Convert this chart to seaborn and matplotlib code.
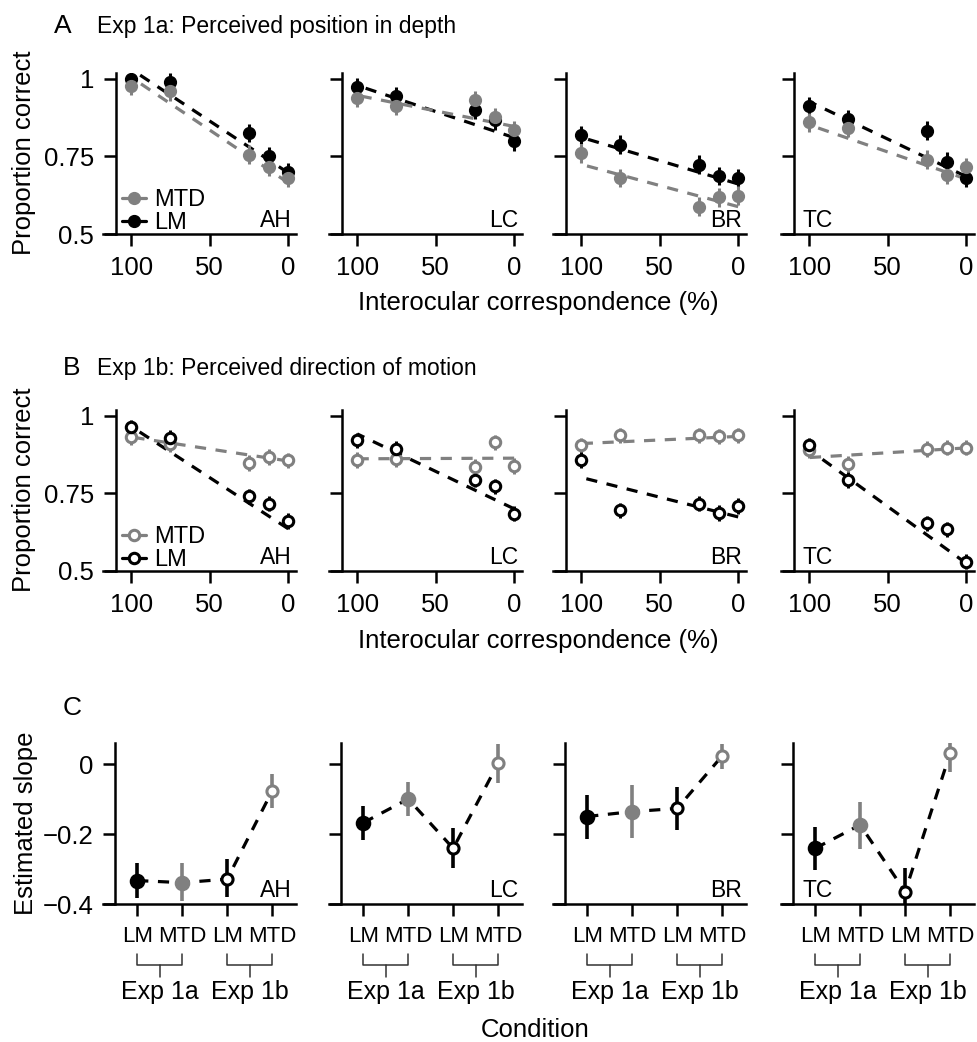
import numpy as np
import pandas as pd
import matplotlib.pyplot as plt
import seaborn as sns
from matplotlib.lines import Line2D

sns.set_theme(style="ticks")
plt.rcParams["font.family"] = ["Liberation Sans", "DejaVu Sans"]
plt.rcParams.update({"text.color": "black", "axes.labelcolor": "black",
                     "xtick.color": "black", "ytick.color": "black"})

# ---- data ----
subjects = ["AH", "LC", "BR", "TC"]
correspondence = [100, 75, 25, 12.5, 0]

# Exp 1a: perceived position in depth (proportion correct), one row per subject
exp1a_lm = [[1.000, 0.988, 0.825, 0.750, 0.698],
            [0.973, 0.943, 0.900, 0.866, 0.798],
            [0.819, 0.787, 0.723, 0.687, 0.680],
            [0.911, 0.870, 0.833, 0.733, 0.680]]
exp1a_mtd = [[0.977, 0.959, 0.755, 0.717, 0.680],
             [0.938, 0.913, 0.930, 0.877, 0.835],
             [0.760, 0.680, 0.588, 0.618, 0.623],
             [0.859, 0.841, 0.739, 0.690, 0.715]]

# Exp 1b: perceived direction of motion
exp1b_lm = [[0.962, 0.928, 0.740, 0.717, 0.661],
            [0.920, 0.893, 0.794, 0.772, 0.685],
            [0.858, 0.695, 0.717, 0.687, 0.709],
            [0.904, 0.792, 0.653, 0.634, 0.530]]
exp1b_mtd = [[0.930, 0.909, 0.847, 0.866, 0.856],
             [0.858, 0.861, 0.834, 0.914, 0.837],
             [0.904, 0.936, 0.936, 0.933, 0.936],
             [0.890, 0.845, 0.893, 0.897, 0.897]]

err_1a = 0.03
err_1b = 0.025

# fitted value at 0 % correspondence (line slope comes from panel C)
fit0_1a_lm = [0.697, 0.810, 0.661, 0.685]
fit0_1a_mtd = [0.665, 0.846, 0.588, 0.677]
fit0_1b_lm = [0.636, 0.700, 0.674, 0.525]
fit0_1b_mtd = [0.854, 0.863, 0.933, 0.896]

# Panel C: estimated slope, order LM 1a, MTD 1a, LM 1b, MTD 1b
conditions = ["LM", "MTD", "LM", "MTD"]
slope_est = [[-0.333, -0.339, -0.329, -0.077],
             [-0.168, -0.100, -0.241, 0.002],
             [-0.150, -0.136, -0.127, 0.023],
             [-0.241, -0.174, -0.365, 0.031]]
slope_lo = [[-0.383, -0.390, -0.379, -0.127],
            [-0.217, -0.149, -0.298, -0.055],
            [-0.215, -0.210, -0.189, -0.015],
            [-0.303, -0.244, -0.400, -0.022]]
slope_hi = [[-0.284, -0.282, -0.270, -0.029],
            [-0.119, -0.050, -0.184, 0.057],
            [-0.089, -0.060, -0.065, 0.057],
            [-0.179, -0.109, -0.298, 0.061]]

GRAY = "#808080"
DASH = (0, (3.5, 3))
W, H = 977, 1042
lefts = [103, 329, 553, 781]

fig = plt.figure(figsize=(W / 100, H / 100), dpi=100)


def add_axes(left, bottom, height):
    return fig.add_axes([left / W, 1 - bottom / H, 193 / W, height / H])


def style(ax):
    sns.despine(ax=ax)
    for s in ["left", "bottom"]:
        ax.spines[s].set_linewidth(1.8)
        ax.spines[s].set_color("black")
    ax.tick_params(length=8.5, width=1.8, pad=7, labelsize=18.5, color="black")


def subject_label(ax, i, subj):
    if subj == "TC":
        ax.text(0.11, 0.043, subj, transform=ax.transAxes, ha="left", va="baseline", fontsize=16.5)
    else:
        ax.text(0.98, 0.043, subj, transform=ax.transAxes, ha="right", va="baseline", fontsize=16.5)


def proportion_row(bottom, lm, mtd, fit_lm, fit_mtd, slope_idx, err, open_marker):
    fit_x = np.array([max(correspondence), min(correspondence)])
    for i, subj in enumerate(subjects):
        ax = add_axes(lefts[i], bottom, 161)
        series = [(lm[i], fit_lm[i], slope_est[i][slope_idx], "black"),
                  (mtd[i], fit_mtd[i], slope_est[i][slope_idx + 1], GRAY)]
        if open_marker:
            series = series[::-1]
        for vals, f0, slope, color in series:
            fit = pd.DataFrame({"x": fit_x, "y": f0 - slope * fit_x / 100})
            sns.lineplot(data=fit, x="x", y="y", ax=ax, color=color, lw=2.3,
                         linestyle=DASH, zorder=2)
            if open_marker:
                ax.errorbar(correspondence, vals, yerr=err, fmt="o", color=color, mfc="white",
                            mec=color, ms=7.5, mew=2.2, elinewidth=2.2, capsize=0, zorder=3)
            else:
                ax.errorbar(correspondence, vals, yerr=err, fmt="o", color=color,
                            ms=8.5, elinewidth=2.2, capsize=0, zorder=3)
        ax.set_xlim(118, -5)
        ax.set_ylim(0.5, 1.018)
        ax.spines["left"].set_position(("data", 110))
        ax.set_xticks([100, 50, 0], ["100", "50", "0"])
        if i == 0:
            ax.set_yticks([0.5, 0.75, 1], ["0.5", "0.75", "1"])
            face = "white" if open_marker else None
            handles = [Line2D([], [], color=GRAY, marker="o", ms=7.5 if open_marker else 8.5,
                              mfc=face or GRAY, mew=2.2 if open_marker else 1, lw=2.3),
                       Line2D([], [], color="black", marker="o", ms=7.5 if open_marker else 8.5,
                              mfc=face or "black", mew=2.2 if open_marker else 1, lw=2.3)]
            ax.legend(handles, ["MTD", "LM"], loc="lower left", bbox_to_anchor=(0.1, 0.0),
                      frameon=False, fontsize=17, handlelength=1.0, handletextpad=0.35,
                      labelspacing=0.05, borderpad=0, borderaxespad=0)
        else:
            ax.set_yticks([0.5, 0.75, 1], [])
        ax.set_xlabel("")
        ax.set_ylabel("")
        style(ax)
        subject_label(ax, i, subj)


# ---- row A ----
proportion_row(234, exp1a_lm, exp1a_mtd, fit0_1a_lm, fit0_1a_mtd, 0, err_1a, False)
# ---- row B ----
proportion_row(571, exp1b_lm, exp1b_mtd, fit0_1b_lm, fit0_1b_mtd, 2, err_1b, True)

# ---- row C ----
cond_color = ["black", GRAY, "black", GRAY]
cond_face = ["black", GRAY, "white", "white"]
for i, subj in enumerate(subjects):
    ax = add_axes(lefts[i], 904, 161)
    df = pd.DataFrame({"pos": np.arange(len(conditions)), "slope": slope_est[i]})
    sns.lineplot(data=df, x="pos", y="slope", ax=ax, color="black", lw=2.3,
                 linestyle=DASH, zorder=2)
    for j in range(len(conditions)):
        est = slope_est[i][j]
        ax.errorbar(j, est, yerr=[[est - slope_lo[i][j]], [slope_hi[i][j] - est]], fmt="o",
                    color=cond_color[j], mfc=cond_face[j], mec=cond_color[j],
                    ms=9 if j < 2 else 8, mew=2.2, elinewidth=2.6, capsize=0, zorder=3)
    ax.set_xlim(-0.76, 3.53)
    ax.set_ylim(-0.4, 0.06)
    ax.spines["left"].set_position(("data", -0.49))
    ax.set_xticks(range(len(conditions)), conditions)
    if i == 0:
        ax.set_yticks([0, -0.2, -0.4], ["0", "\u22120.2", "\u22120.4"])
    else:
        ax.set_yticks([0, -0.2, -0.4], [])
    ax.set_xlabel("")
    ax.set_ylabel("")
    style(ax)
    ax.tick_params(axis="x", labelsize=16)
    subject_label(ax, i, subj)
    tr = ax.get_xaxis_transform()
    for a, b, name in [(0, 1, "Exp 1a"), (2, 3, "Exp 1b")]:
        ax.plot([a, a, b, b], [-0.311, -0.379, -0.379, -0.311], transform=tr,
                clip_on=False, color="#333333", lw=1.1)
        ax.plot([(a + b) / 2] * 2, [-0.379, -0.453], transform=tr,
                clip_on=False, color="#333333", lw=1.1)
        ax.text((a + b) / 2, -0.547, name, transform=tr, ha="center", va="center", fontsize=18)

# ---- titles and shared labels ----
fig.text(63 / W, 1 - 33 / H, "A", fontsize=19, ha="center", va="baseline")
fig.text(97 / W, 1 - 33 / H, "Exp 1a: Perceived position in depth", fontsize=16.5,
         ha="left", va="baseline")
fig.text(72 / W, 1 - 375 / H, "B", fontsize=19, ha="center", va="baseline")
fig.text(97 / W, 1 - 375 / H, "Exp 1b: Perceived direction of motion", fontsize=16.5,
         ha="left", va="baseline")
fig.text(72 / W, 1 - 715 / H, "C", fontsize=19, ha="center", va="baseline")

fig.text(24 / W, 1 - 153 / H, "Proportion correct", rotation=90, fontsize=18.5,
         ha="center", va="center")
fig.text(24 / W, 1 - 490 / H, "Proportion correct", rotation=90, fontsize=18.5,
         ha="center", va="center")
fig.text(26 / W, 1 - 823 / H, "Estimated slope", rotation=90, fontsize=18.5,
         ha="center", va="center")

fig.text(538 / W, 1 - 303 / H, "Interocular correspondence (%)", fontsize=18.5,
         ha="center", va="center")
fig.text(538 / W, 1 - 641 / H, "Interocular correspondence (%)", fontsize=18.5,
         ha="center", va="center")
fig.text(535 / W, 1 - 1030 / H, "Condition", fontsize=18.5, ha="center", va="center")

fig.savefig("out.png", dpi=100)
